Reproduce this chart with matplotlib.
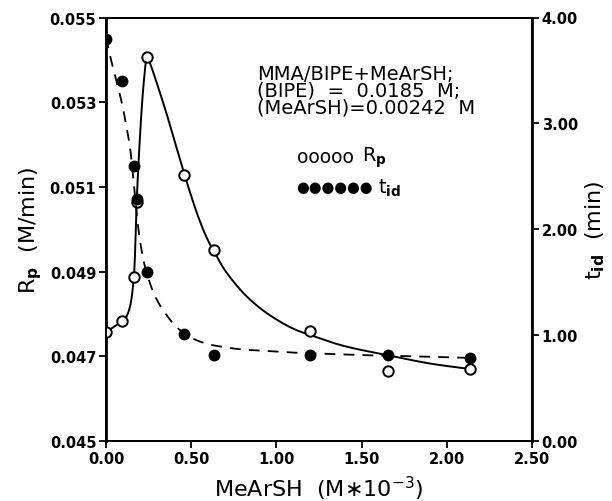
import matplotlib
matplotlib.use("Agg")
import matplotlib.pyplot as plt
import numpy as np

plt.rcParams['font.family'] = ['DejaVu Sans']
plt.rcParams['mathtext.fontset'] = 'dejavusans'

# MeArSH concentration (M*10^-3)
mearsh = [0.00, 0.096, 0.163, 0.180, 0.239, 0.458, 0.634, 1.20, 1.657, 2.136]
# polymerization rate Rp (M/min), open circles
rp = [0.04757, 0.04783, 0.04888, 0.05064, 0.05406, 0.05129, 0.04950, 0.04760, 0.04666, 0.04670]
# induction time t_id (min), filled circles
mearsh_t = [0.00, 0.094, 0.163, 0.180, 0.240, 0.458, 0.634, 1.20, 1.657, 2.136]
tid = [3.80, 3.40, 2.60, 2.29, 1.60, 1.01, 0.81, 0.81, 0.81, 0.78]

# knots of the solid guide curve for Rp
rp_curve_x = [0.00, 0.094, 0.125, 0.145, 0.157, 0.165, 0.172, 0.180, 0.192, 0.207,
              0.224, 0.240, 0.262, 0.30, 0.35, 0.40, 0.46, 0.51, 0.55, 0.59,
              0.63, 0.70, 0.80, 0.90, 1.00, 1.10, 1.20, 1.40, 1.66, 1.90, 2.136]
rp_curve_y = [0.04757, 0.04783, 0.04798, 0.04825, 0.04860, 0.04895, 0.04960, 0.05064,
              0.05165, 0.05270, 0.05358, 0.05407, 0.05388, 0.05343, 0.05280, 0.05212,
              0.05130, 0.05066, 0.05020, 0.04981, 0.04950, 0.04902, 0.04852, 0.04815,
              0.04787, 0.04765, 0.04750, 0.04724, 0.04702, 0.04683, 0.04670]
# knots of the dashed guide curve for t_id
tid_curve_x = [0.00, 0.025, 0.05, 0.092, 0.12, 0.141, 0.155, 0.168, 0.178, 0.188,
               0.198, 0.21, 0.225, 0.24, 0.276, 0.31, 0.346, 0.405, 0.458, 0.52,
               0.60, 0.70, 0.80, 0.95, 1.10, 1.31, 1.53, 1.80, 2.136]
tid_curve_y = [3.81, 3.63, 3.47, 3.20, 2.97, 2.77, 2.57, 2.35, 2.17, 2.03,
               1.91, 1.79, 1.67, 1.58, 1.41, 1.30, 1.21, 1.09, 1.02, 0.96,
               0.915, 0.885, 0.865, 0.85, 0.835, 0.822, 0.81, 0.80, 0.785]

xticks = [0.0, 0.5, 1.0, 1.5, 2.0, 2.5]
xticklabels = ['0.00', '0.50', '1.00', '1.50', '2.00', '2.50']
rp_ticks = [0.045, 0.047, 0.049, 0.051, 0.053, 0.055]
rp_ticklabels = ['0.045', '0.047', '0.049', '0.051', '0.053', '0.055']
tid_ticks = [0, 1, 2, 3, 4]
tid_ticklabels = ['0.00', '1.00', '2.00', '3.00', '4.00']


def catmull_rom(xs, ys, n=16):
    """Smooth Catmull-Rom path through the given knots."""
    p = np.column_stack([xs, ys]).astype(float)
    p = np.vstack([2 * p[0] - p[1], p, 2 * p[-1] - p[-2]])
    t = np.linspace(0, 1, n, endpoint=False)[:, None]
    out = []
    for i in range(1, len(p) - 2):
        p0, p1, p2, p3 = p[i - 1], p[i], p[i + 1], p[i + 2]
        seg = 0.5 * ((2 * p1) + (-p0 + p2) * t
                     + (2 * p0 - 5 * p1 + 4 * p2 - p3) * t ** 2
                     + (-p0 + 3 * p1 - 3 * p2 + p3) * t ** 3)
        out.append(seg)
    out.append(p[-2][None, :])
    out = np.vstack(out)
    return out[:, 0], out[:, 1]


fig = plt.figure(figsize=(6.12, 5.02), dpi=100)
ax = fig.add_axes([106 / 612, 1 - 442 / 502, 426 / 612, 423.5 / 502])
ax2 = ax.twinx()

# the Rp knots are normalised so both coordinates carry similar weight
rp_scale = 0.010 / 2.5
cx, cy = catmull_rom(rp_curve_x, np.array(rp_curve_y) / rp_scale)
ax.plot(cx, cy * rp_scale, '-', color='black', lw=1.4, zorder=2)
ax.plot(mearsh, rp, 'o', ms=7.5, mfc='white', mec='black', mew=1.4, zorder=3)

tx, ty = catmull_rom(tid_curve_x, np.array(tid_curve_y) / 1.6)
ax2.plot(tx, ty * 1.6, '--', color='black', lw=1.3, dashes=(6, 4.5), zorder=2)
ax2.plot(mearsh_t, tid, 'o', ms=7.5, mfc='black', mec='black', zorder=3)

ax.set_xlim(0, 2.5)
ax.set_ylim(0.045, 0.055)
ax2.set_ylim(0, 4)

ax.set_xticks(xticks)
ax.set_xticklabels(xticklabels)
ax.set_yticks(rp_ticks)
ax.set_yticklabels(rp_ticklabels)
ax2.set_yticks(tid_ticks)
ax2.set_yticklabels(tid_ticklabels)

for a in (ax, ax2):
    a.tick_params(direction='out', length=5, width=1.3, labelsize=10.5, pad=2)
    for lab in a.get_xticklabels() + a.get_yticklabels():
        lab.set_fontweight('bold')
    for s in a.spines.values():
        s.set_linewidth(1.4)
ax.spines['left'].set_linewidth(2.0)
ax2.spines['right'].set_linewidth(2.0)

ax.set_xlabel('MeArSH  (M\u221710$^{-3}$)', fontsize=16, labelpad=6)
ax.set_ylabel('R$_\\mathbf{p}$  (M/min)', fontsize=16, labelpad=4)
ax2.set_ylabel('t$_\\mathbf{id}$  (min)', fontsize=16, labelpad=4)

ax.text(0.355, 0.890, 'MMA/BIPE+MeArSH;\n(BIPE)  =  0.0185  M;\n(MeArSH)=0.00242  M',
        transform=ax.transAxes, fontsize=14, va='top', ha='left', linespacing=0.85)
ax.text(0.448, 0.671, 'ooooo', transform=ax.transAxes,
        fontsize=13.5, va='center', ha='left')
ax.text(0.600, 0.671, 'R$_\\mathbf{p}$', transform=ax.transAxes,
        fontsize=14, va='center', ha='left')
ax.text(0.446, 0.600, '\u25cf\u25cf\u25cf\u25cf\u25cf\u25cf', transform=ax.transAxes,
        fontsize=10.5, va='center', ha='left')
ax.text(0.638, 0.600, 't$_\\mathbf{id}$', transform=ax.transAxes,
        fontsize=14, va='center', ha='left')

fig.savefig('out.png', dpi=100)
